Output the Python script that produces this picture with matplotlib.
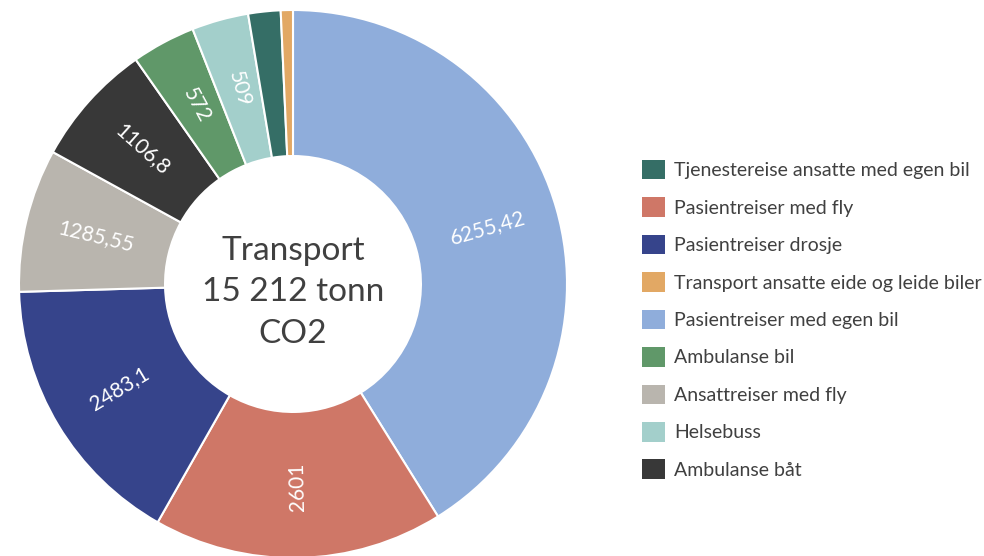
import matplotlib.pyplot as plt
from matplotlib.patches import Patch
import numpy as np

plt.rcParams['font.family'] = ['Lato', 'DejaVu Sans']

# slices, clockwise from 12 o'clock
categories = ['Pasientreiser med egen bil', 'Pasientreiser med fly', 'Pasientreiser drosje',
              'Ansattreiser med fly', 'Ambulanse båt', 'Ambulanse bil', 'Helsebuss',
              'Tjenestereise ansatte med egen bil', 'Transport ansatte eide og leide biler']
values = [6255.42, 2601, 2483.1, 1285.55, 1106.8, 572, 509, 290, 109]
labels = ['6255,42', '2601', '2483,1', '1285,55', '1106,8', '572', '509', '', '']
colors = ['#8faddb', '#cf7767', '#36448b', '#b9b5ae', '#383838', '#609869', '#a3cfcb',
          '#356e66', '#e2a864']

legend_order = ['Tjenestereise ansatte med egen bil', 'Pasientreiser med fly', 'Pasientreiser drosje',
                'Transport ansatte eide og leide biler', 'Pasientreiser med egen bil', 'Ambulanse bil',
                'Ansattreiser med fly', 'Helsebuss', 'Ambulanse båt']

center_text = 'Transport\n15 212 tonn\nCO2'
text_color = '#404040'

fig = plt.figure(figsize=(9.84, 5.56), dpi=100, facecolor='w')
ax = fig.add_axes([19 / 984, -2 / 556, 548 / 984, 548 / 556])

wedges, _ = ax.pie(values, colors=colors, startangle=90, counterclock=False, radius=1.0,
                   wedgeprops=dict(width=0.533, edgecolor='white', linewidth=1.5))

# radial value labels, flipped so they stay readable
label_r = 0.74
for w, lab in zip(wedges, labels):
    if not lab:
        continue
    ang = (w.theta1 + w.theta2) / 2.0
    x = label_r * np.cos(np.radians(ang))
    y = label_r * np.sin(np.radians(ang))
    rot = (ang + 180) % 360 - 180
    if rot > 95:
        rot -= 180
    elif rot < -85:
        rot += 180
    ax.text(x, y, lab, rotation=rot, rotation_mode='anchor', ha='center', va='center',
            color='white', fontsize=15)

ax.text(0, -0.03, center_text, ha='center', va='center', fontsize=24, color=text_color,
        linespacing=1.48)
ax.set_xlim(-1, 1)
ax.set_ylim(-1, 1)
ax.set_aspect('equal')
ax.axis('off')

color_map = dict(zip(categories, colors))
handles = [Patch(facecolor=color_map[c], edgecolor='none', label=c) for c in legend_order]
fig.legend(handles=handles, loc='upper left', bbox_to_anchor=(632 / 984, 1 - 150 / 556),
           frameon=False, fontsize=14, labelcolor=text_color, handlelength=1.18,
           handleheight=1.18, handletextpad=0.5, labelspacing=0.915, borderpad=0)

fig.savefig('out.png', dpi=100, facecolor='w')
